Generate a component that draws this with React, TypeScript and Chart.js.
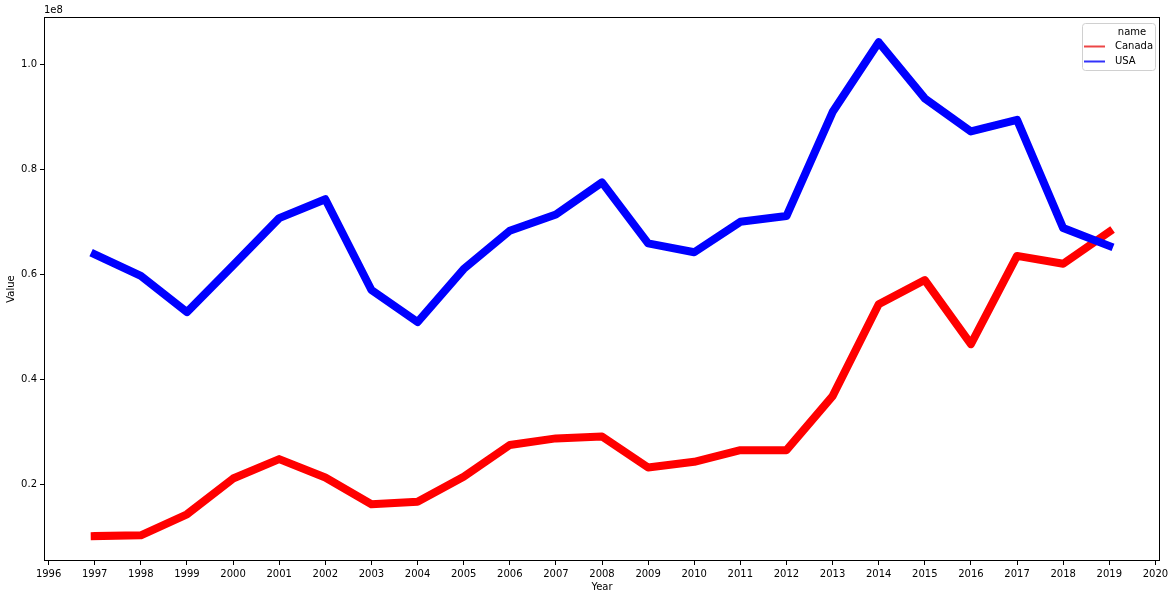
import { useEffect, useRef } from "react";
import { Chart, registerables } from "chart.js";

Chart.register(...registerables);

const years = [1997, 1998, 1999, 2000, 2001, 2002, 2003, 2004, 2005, 2006, 2007, 2008, 2009, 2010, 2011, 2012, 2013, 2014, 2015, 2016, 2017, 2018, 2019];

const canada = [
  10150000, 10300000, 14300000, 21100000, 24800000, 21300000, 16200000, 16700000, 21450000, 27500000, 28750000,
  29100000, 23200000, 24300000, 26500000, 26500000, 36800000, 54300000, 58900000, 46700000, 63500000, 62000000, 68100000,
];

const usa = [
  63800000, 59700000, 52800000, 61700000, 70700000, 74300000, 57000000, 50900000, 61000000, 68300000, 71400000,
  77500000, 65900000, 64200000, 70000000, 71100000, 90900000, 104200000, 93500000, 87200000, 89400000, 68800000, 65400000,
];

const xTicks = [1996, 1997, 1998, 1999, 2000, 2001, 2002, 2003, 2004, 2005, 2006, 2007, 2008, 2009, 2010, 2011, 2012, 2013, 2014, 2015, 2016, 2017, 2018, 2019, 2020];
const yTicks = [20000000, 40000000, 60000000, 80000000, 100000000];

const FONT = '"DejaVu Sans", sans-serif';

// box around the plot, "1e8" offset label and the legend inside the axes
const framePlugin = {
  id: "frame",
  afterDraw(chart: Chart) {
    const { ctx, chartArea: a } = chart;
    ctx.save();
    ctx.strokeStyle = "#000";
    ctx.lineWidth = 1;
    ctx.strokeRect(a.left + 0.5, a.top + 0.5, a.right - a.left - 1, a.bottom - a.top - 1);

    ctx.font = `10px ${FONT}`;
    ctx.fillStyle = "#000";
    ctx.textAlign = "left";
    ctx.textBaseline = "bottom";
    ctx.fillText("1e8", a.left, a.top - 2);

    // legend
    const bw = 73;
    const bh = 47;
    const bx = a.right - 5 - bw;
    const by = a.top + 6;
    ctx.beginPath();
    ctx.roundRect(bx + 0.5, by + 0.5, bw, bh, 3);
    ctx.fillStyle = "rgba(255,255,255,0.8)";
    ctx.fill();
    ctx.strokeStyle = "#d0d0d0";
    ctx.stroke();

    ctx.fillStyle = "#000";
    ctx.textBaseline = "middle";
    ctx.textAlign = "center";
    ctx.fillText("name", bx + 50, by + 9.5);
    ctx.textAlign = "left";
    const items = [
      { label: "Canada", color: "rgb(236,70,70)" },
      { label: "USA", color: "rgb(50,50,250)" },
    ];
    items.forEach((it, i) => {
      const y = by + 23.5 + i * 15;
      ctx.strokeStyle = it.color;
      ctx.lineWidth = 2;
      ctx.beginPath();
      ctx.moveTo(bx + 2, y);
      ctx.lineTo(bx + 23, y);
      ctx.stroke();
      ctx.fillStyle = "#000";
      ctx.fillText(it.label, bx + 33, y);
    });
    ctx.restore();
  },
};

const App = () => {
  const chartRef = useRef<HTMLCanvasElement>(null);
  const chartInstance = useRef<Chart | null>(null);

  useEffect(() => {
    if (!chartRef.current) return;
    if (chartInstance.current) chartInstance.current.destroy();

    const ctx = chartRef.current.getContext("2d");
    if (!ctx) return;

    chartInstance.current = new Chart(ctx, {
      type: "line",
      data: {
        datasets: [
          {
            label: "Canada",
            data: years.map((x, i) => ({ x, y: canada[i] })),
            borderColor: "#ff0000",
            borderWidth: 8,
            borderCapStyle: "square",
            borderJoinStyle: "round",
            pointRadius: 0,
            tension: 0,
            order: 2,
          },
          {
            label: "USA",
            data: years.map((x, i) => ({ x, y: usa[i] })),
            borderColor: "#0000ff",
            borderWidth: 8,
            borderCapStyle: "square",
            borderJoinStyle: "round",
            pointRadius: 0,
            tension: 0,
            order: 1,
          },
        ],
      },
      options: {
        animation: false,
        responsive: true,
        maintainAspectRatio: false,
        layout: { padding: { top: 17, right: 15, left: 0, bottom: 0 } },
        plugins: {
          legend: { display: false },
          tooltip: { enabled: false },
        },
        scales: {
          x: {
            type: "linear",
            min: 1995.9,
            max: 2020.1,
            afterBuildTicks: (scale: any) => {
              scale.ticks = xTicks.map((value) => ({ value }));
            },
            afterFit: (scale: any) => {
              scale.height = 38;
            },
            ticks: {
              autoSkip: false,
              maxRotation: 0,
              padding: 3,
              color: "#000",
              font: { family: FONT, size: 10 },
              callback: (v: any) => String(v),
            },
            grid: { drawOnChartArea: false, tickLength: 4, color: "#000" },
            border: { display: false },
            title: {
              display: true,
              text: "Year",
              color: "#000",
              font: { family: FONT, size: 10 },
              padding: { top: 0, bottom: 6 },
            },
          },
          y: {
            type: "linear",
            min: 5400000,
            max: 109000000,
            afterBuildTicks: (scale: any) => {
              scale.ticks = yTicks.map((value) => ({ value }));
            },
            afterFit: (scale: any) => {
              scale.width = 44;
            },
            ticks: {
              padding: 3,
              color: "#000",
              font: { family: FONT, size: 10 },
              callback: (v: any) => (Number(v) / 1e8).toFixed(1),
            },
            grid: { drawOnChartArea: false, tickLength: 4, color: "#000" },
            border: { display: false },
            title: {
              display: true,
              text: "Value",
              color: "#000",
              font: { family: FONT, size: 10 },
              padding: { top: 5, bottom: 0 },
            },
          },
        },
      },
      plugins: [framePlugin],
    });

    return () => {
      if (chartInstance.current) {
        chartInstance.current.destroy();
        chartInstance.current = null;
      }
    };
  }, []);

  return (
    <div style={{ position: "fixed", top: 0, left: 0, width: 1175, height: 599, background: "#fff" }}>
      <canvas ref={chartRef} />
    </div>
  );
};

export default App;
